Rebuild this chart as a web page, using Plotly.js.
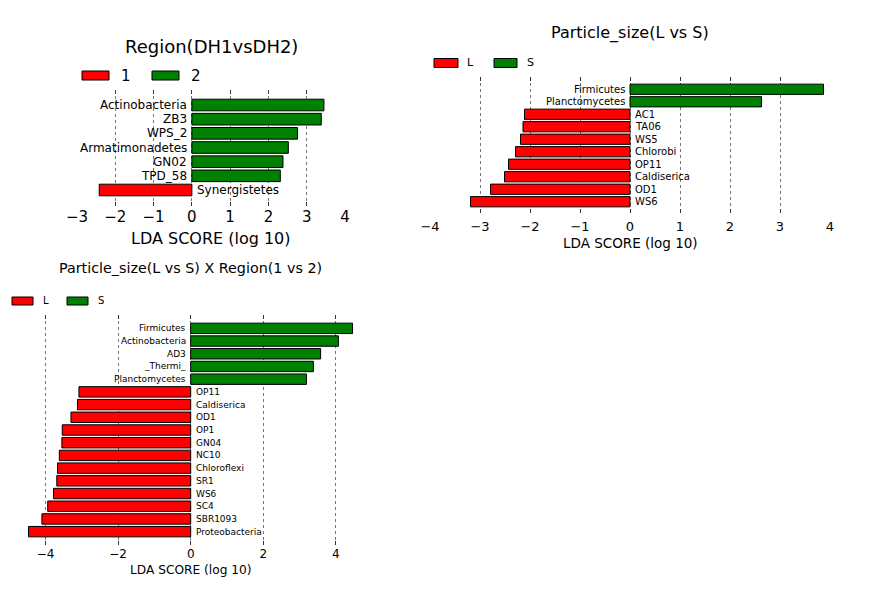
<!DOCTYPE html>
<html>
<head>
<meta charset="utf-8">
<script src="https://cdn.plot.ly/plotly-3.0.1.min.js"></script>
<style>html,body{margin:0;padding:0;background:#fff}#chart{width:887px;height:590px}</style>
</head>
<body>
<div id="chart"></div>
<script>
// Panel 1: Region (DH1 vs DH2)
const region_names = ['Synergistetes','TPD_58','GN02','Armatimonadetes','WPS_2','ZB3','Actinobacteria'];
const region_lda = [-2.42, 2.31, 2.38, 2.52, 2.76, 3.38, 3.45];
const region_groups = ['1', '2'];
const region_title = 'Region(DH1vsDH2)';

// Panel 2: Particle size (L vs S)
const size_names = ['WS6','OD1','Caldiserica','OP11','Chlorobi','WS5','TA06','AC1','Planctomycetes','Firmicutes'];
const size_lda = [-3.19, -2.79, -2.51, -2.43, -2.29, -2.19, -2.14, -2.11, 2.63, 3.87];
const size_groups = ['L', 'S'];
const size_title = 'Particle_size(L vs S)';

// Panel 3: Particle size x Region
const inter_names = ['Proteobacteria','SBR1093','SC4','WS6','SR1','Chloroflexi','NC10','GN04','OP1','OD1','Caldiserica','OP11','Planctomycetes','_Thermi_','AD3','Actinobacteria','Firmicutes'];
const inter_lda = [-4.47, -4.10, -3.94, -3.78, -3.69, -3.67, -3.62, -3.55, -3.54, -3.30, -3.12, -3.08, 3.19, 3.38, 3.58, 4.07, 4.46];
const inter_groups = ['L', 'S'];
const inter_title = 'Particle_size(L vs S) X Region(1 vs 2)';

const x_title = 'LDA SCORE (log 10)';
const W = 887, H = 590;
const FONT = 'DejaVu Sans, Liberation Sans, sans-serif';
const RED = '#ff0000', GREEN = '#008000';

const panels = [
  {names: region_names, vals: region_lda, groups: region_groups, title: region_title,
   xa: 'x', ya: 'y', px: [77, 345], py: [90, 206], xr: [-3, 4], yr: [-1.13, 7.06],
   tickfs: 15, labfs: 12, titlefs: 18, axfs: 16, legfs: 15, titleY: 47, axY: 239, standoff: 3.5,
   legPatch: [[82, 109], [152, 179]], legText: [119, 189], legY: [71, 80], dtick: 1},
  {names: size_names, vals: size_lda, groups: size_groups, title: size_title,
   xa: 'x2', ya: 'y2', px: [430, 830], py: [77, 213], xr: [-4, 4], yr: [-0.9, 9.98],
   tickfs: 13, labfs: 10, titlefs: 16, axfs: 13.5, legfs: 11, titleY: 33, axY: 243, standoff: 4,
   legPatch: [[434, 458], [494, 517]], legText: [465, 525], legY: [58.5, 67.5], dtick: 1},
  {names: inter_names, vals: inter_lda, groups: inter_groups, title: inter_title,
   xa: 'x3', ya: 'y3', px: [27.4, 354], py: [315, 545], xr: [-4.5, 4.5], yr: [-1.05, 17.05],
   tickfs: 12, labfs: 9, titlefs: 14.3, axfs: 12.2, legfs: 10, titleY: 268, axY: 570, standoff: 0,
   legPatch: [[12, 33], [67, 88]], legText: [41, 96], legY: [297, 305], dtick: 2}
];

const data = [];
const annotations = [];
const shapes = [];
const layout = {
  width: W, height: H,
  margin: {l: 0, r: 0, t: 0, b: 0},
  paper_bgcolor: '#fff', plot_bgcolor: '#fff',
  font: {family: FONT, color: '#000'},
  barmode: 'overlay',
  showlegend: false
};

panels.forEach((p, i) => {
  const neg = p.vals.map((v, k) => v < 0 ? k : -1).filter(k => k >= 0);
  const pos = p.vals.map((v, k) => v >= 0 ? k : -1).filter(k => k >= 0);
  const cols = [RED, GREEN];
  [neg, pos].forEach((idx, g) => {
    data.push({
      type: 'bar', orientation: 'h',
      x: idx.map(k => p.vals[k]), y: idx.map(k => p.names[k]),
      name: p.groups[g],
      xaxis: p.xa, yaxis: p.ya,
      width: 0.82,
      marker: {color: cols[g], line: {color: '#000', width: 1}},
      hoverinfo: 'x+y'
    });
    // legend patch + label
    shapes.push({
      type: 'rect', xref: 'paper', yref: 'paper',
      x0: p.legPatch[g][0] / W, x1: p.legPatch[g][1] / W,
      y0: 1 - p.legY[1] / H, y1: 1 - p.legY[0] / H,
      fillcolor: cols[g], line: {color: '#000', width: 1}
    });
    annotations.push({
      xref: 'paper', yref: 'paper', x: p.legText[g] / W, y: 1 - (p.legY[0] + p.legY[1]) / 2 / H,
      text: p.groups[g], showarrow: false, xanchor: 'left', yanchor: 'middle',
      font: {size: p.legfs, family: FONT, color: '#000'}
    });
  });
  // category labels beside zero
  p.names.forEach((n, k) => {
    const v = p.vals[k];
    annotations.push({
      xref: p.xa, yref: p.ya, x: 0, y: n, text: n, showarrow: false,
      xanchor: v >= 0 ? 'right' : 'left', xshift: v >= 0 ? -3 : 3,
      font: {size: p.labfs, family: FONT, color: '#000'}
    });
  });
  // panel titles and axis titles
  annotations.push({
    xref: 'paper', yref: 'paper', x: (p.px[0] + p.px[1]) / 2 / W, y: 1 - p.titleY / H,
    text: p.title, showarrow: false, xanchor: 'center', yanchor: 'middle',
    font: {size: p.titlefs, family: FONT, color: '#000'}
  });
  annotations.push({
    xref: 'paper', yref: 'paper', x: (p.px[0] + p.px[1]) / 2 / W, y: 1 - p.axY / H,
    text: x_title, showarrow: false, xanchor: 'center', yanchor: 'middle',
    font: {size: p.axfs, family: FONT, color: '#000'}
  });
  const sfx = i === 0 ? '' : String(i + 1);
  layout['xaxis' + sfx] = {
    domain: [p.px[0] / W, p.px[1] / W],
    anchor: p.ya,
    range: p.xr, dtick: p.dtick, tick0: 0,
    showline: false, zeroline: false,
    showgrid: true, gridcolor: '#777', griddash: 'dot', gridwidth: 1,
    ticks: 'inside', ticklen: 4, tickcolor: '#333', mirror: 'ticks',
    ticklabelstandoff: p.standoff,
    tickfont: {size: p.tickfs, family: FONT, color: '#000'},
    fixedrange: true
  };
  layout['yaxis' + sfx] = {
    domain: [1 - p.py[1] / H, 1 - p.py[0] / H],
    anchor: p.xa,
    type: 'category', categoryorder: 'array', categoryarray: p.names,
    range: p.yr,
    showticklabels: false, showgrid: false, zeroline: false, showline: false, ticks: '',
    fixedrange: true
  };
});
layout.annotations = annotations;
layout.shapes = shapes;

Plotly.newPlot('chart', data, layout, {staticPlot: true, displayModeBar: false});
</script>
</body>
</html>
